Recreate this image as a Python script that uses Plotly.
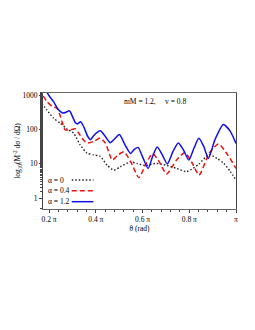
import plotly.graph_objects as go

# theta in units of pi, values in log10
theta_a0 = [0.169, 0.19, 0.2185, 0.247, 0.276, 0.305, 0.333, 0.362, 0.391, 0.419, 0.448, 0.477,
            0.505, 0.548, 0.578, 0.613, 0.656, 0.699, 0.742, 0.789, 0.841, 0.884, 0.92, 0.948,
            0.975, 1.0]
log_a0 = [2.75, 2.571, 2.329, 2.184, 2.017, 1.892, 1.551, 1.309, 1.259, 1.213, 0.959, 0.813,
          0.910, 1.055, 1.003, 0.945, 1.009, 0.959, 0.872, 0.770, 0.988, 1.265, 1.15, 1.009,
          0.78, 0.522]

theta_a04 = [0.175, 0.19, 0.212, 0.233, 0.245, 0.255, 0.269, 0.290, 0.312, 0.328, 0.341, 0.362,
             0.391, 0.419, 0.441, 0.455, 0.470, 0.495, 0.520, 0.55, 0.584, 0.615, 0.643, 0.672,
             0.703, 0.745, 0.781, 0.81, 0.842, 0.885, 0.925, 0.965, 1.0]
log_a04 = [2.971, 2.816, 2.671, 2.621, 2.45, 2.233, 1.988, 1.988, 2.017, 1.88, 1.746, 1.601,
           1.650, 1.746, 1.60, 1.35, 1.105, 1.25, 1.347, 1.05, 0.595, 1.00, 1.295, 1.05,
           0.70, 1.10, 1.324, 1.05, 0.668, 1.30, 1.577, 1.25, 0.863]

theta_a12 = [0.185, 0.20, 0.2185, 0.235, 0.2473, 0.259, 0.273, 0.287, 0.300, 0.312, 0.322, 0.335,
             0.35, 0.365, 0.376, 0.395, 0.419, 0.44, 0.462, 0.48, 0.501, 0.525, 0.548, 0.565,
             0.581, 0.60, 0.624, 0.645, 0.663, 0.685, 0.706, 0.73, 0.753, 0.775, 0.798, 0.82,
             0.841, 0.862, 0.882, 0.91, 0.946, 0.975, 1.0]
log_a12 = [3.15, 2.98, 2.816, 2.62, 2.525, 2.475, 2.50, 2.542, 2.38, 2.20, 2.16, 2.22,
           2.05, 1.80, 1.70, 1.85, 1.959, 1.80, 1.609, 1.72, 1.85, 1.55, 1.30, 1.42,
           1.475, 1.20, 0.863, 1.25, 1.484, 1.25, 0.99, 1.35, 1.60, 1.40, 1.105, 1.45,
           1.738, 1.50, 1.155, 1.70, 2.14, 1.95, 1.59]

labels = ["α = 0", "α = 0.4", "α = 1.2"]
x_tickvals = [0.2, 0.4, 0.6, 0.8, 1.0]
x_ticktext = ["0.2 π", "0.4 π", "0.6 π", "0.8 π", "π"]
y_tickvals = [1, 10, 100, 1000]
y_ticktext = ["1", "10", "100", "1000"]

serif = "Liberation Serif, Times New Roman, serif"
colors = ["#222222", "#ee1111", "#1010ee"]
dashes = ["1.5px,2px", "5px,3px", "solid"]
widths = [1.4, 1.5, 1.5]

fig = go.Figure()
series = [(theta_a0, log_a0), (theta_a04, log_a04), (theta_a12, log_a12)]
for (xs, ls), lab, col, dash, w in zip(series, labels, colors, dashes, widths):
    fig.add_trace(go.Scatter(
        x=xs, y=[10 ** v for v in ls], mode="lines", name=lab,
        line=dict(color=col, dash=dash, width=w, shape="spline", smoothing=0.6),
        hovertemplate=lab + "<extra></extra>",
    ))

# page body has an 8px margin, so the figure is sized/placed to compensate
fig.update_layout(
    width=247, height=314,
    margin=dict(l=35, r=19, t=85, b=113),
    paper_bgcolor="white", plot_bgcolor="white",
    font=dict(family=serif, size=7.5, color="black"),
    showlegend=False,
    xaxis=dict(
        range=[0.174, 1.0], tickvals=x_tickvals, ticktext=x_ticktext, automargin=False,
        showgrid=False, zeroline=False, showline=True, linecolor="#666666", mirror=True,
        ticks="outside", ticklen=3, tickcolor="#444444",
        minor=dict(ticks="outside", ticklen=2, dtick=0.04, tick0=0.2, tickcolor="#444444"),
        title=dict(text="θ (rad)", font=dict(size=7.5), standoff=0),
        tickfont=dict(size=7.5),
    ),
    yaxis=dict(
        type="log", range=[-0.32, 3.06], tickvals=y_tickvals, ticktext=y_ticktext, automargin=False,
        showgrid=False, zeroline=False, showline=True, linecolor="#444444", mirror=True,
        ticks="outside", ticklen=3, tickcolor="#444444",
        minor=dict(ticks="outside", ticklen=2, tickcolor="#444444"),
        title=dict(text="log<sub>10</sub>(M<sup>-2</sup> dσ / dΩ)", font=dict(size=7.5), standoff=0),
        tickfont=dict(size=7.5),
    ),
)

# legend: text on the left, line sample on the right (as in the reference)
leg_y = [0.25, 0.158, 0.063]
for lab, col, dash, w, yy in zip(labels, colors, dashes, widths, leg_y):
    fig.add_annotation(text=lab, xref="paper", yref="paper", x=0.016, y=yy,
                       xanchor="left", yanchor="middle", showarrow=False, font=dict(size=7.5))
    fig.add_shape(type="line", xref="paper", yref="paper", x0=0.149, x1=0.261, y0=yy, y1=yy,
                  line=dict(color=col, dash=dash, width=w))

fig.add_annotation(text="mM = 1.2,&nbsp;&nbsp;&nbsp;&nbsp;&nbsp;v = 0.8", xref="paper", yref="paper",
                   x=0.41, y=0.985, xanchor="left", yanchor="top", showarrow=False,
                   font=dict(size=7.5))

fig.write_html("out.html")
